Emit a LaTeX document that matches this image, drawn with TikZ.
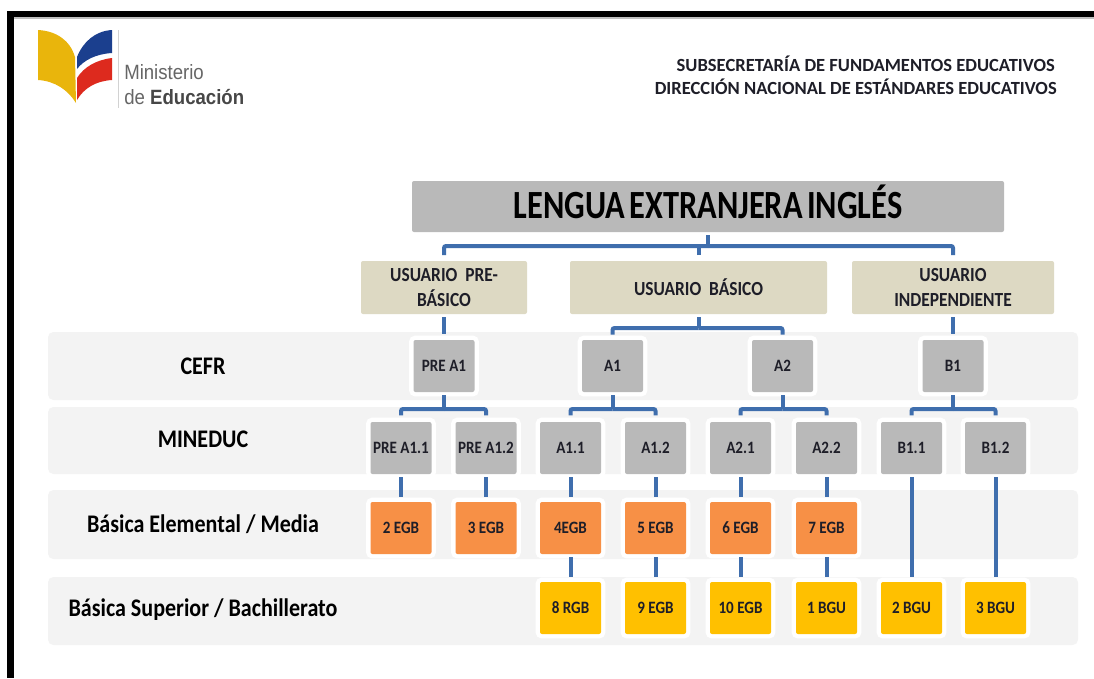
\documentclass[tikz,border=0pt]{standalone}
\usepackage{fontspec}
\setmainfont{Carlito}
\newfontfamily\logofont[FakeStretch=0.9]{Liberation Sans}
\newfontfamily\cndfont[FakeStretch=0.87]{Carlito}
\newfontfamily\titlefont[FakeStretch=0.81,WordSpace=0.6]{Carlito}
\definecolor{bandgray}{HTML}{F3F3F3}
\definecolor{boxgray}{HTML}{B9B9B9}
\definecolor{usertan}{HTML}{DDD9C3}
\definecolor{egborange}{HTML}{F79046}
\definecolor{bguyellow}{HTML}{FFC000}
\definecolor{connblue}{HTML}{3F6EAD}
\definecolor{inkdark}{HTML}{1E1E28}
\definecolor{logoyellow}{HTML}{E9B50C}
\definecolor{logoblue}{HTML}{1B3F8E}
\definecolor{logored}{HTML}{DD2A1E}
\tikzset{
  x=0.75pt,y=-0.75pt,
  pxbox/.style={anchor=north west,inner sep=0pt,outer sep=0pt,rounded corners=1.5pt,align=center,text=inkdark},
  band/.style={fill=bandgray,rounded corners=4pt},
  level/.style={pxbox,fill=boxgray,minimum width=45.75pt,minimum height=39pt,text height=8.2pt,text depth=0pt,
    preaction={draw=white,line width=6.5pt},font=\cndfont\bfseries\fontsize{13}{15}\selectfont},
  egb/.style={level,fill=egborange},
  bgu/.style={level,fill=bguyellow},
  user/.style={pxbox,fill=usertan,font=\cndfont\bfseries\fontsize{15}{19}\selectfont},
  rowlabel/.style={text=black,font=\cndfont\bfseries\fontsize{19}{22}\selectfont,inner sep=0pt},
  head/.style={anchor=east,text=inkdark,font=\bfseries\fontsize{13.9}{16}\selectfont,inner sep=0pt},
  conn/.style={draw=connblue,line width=3pt,rounded corners=1.5pt},
  drop/.style={conn,shorten <=2.25pt,shorten >=2.25pt}
}
\begin{document}
\begin{tikzpicture}
\useasboundingbox (0,0) rectangle (1094,678);
\fill[white] (0,0) rectangle (1094,678);
% frame
\fill[black] (7,11) rectangle (1094,17);
\fill[black] (7,11) rectangle (14,678);
\fill[gray!50] (14,17) rectangle (1094,19);
% logo
\fill[logoyellow] (38,30) .. controls (56,31) and (70,40) .. (75,57) -- (76,103) .. controls (68,90) and (55,81) .. (38,80) -- cycle;
\fill[logoblue] (77,57) .. controls (83,42) and (95,31) .. (112,30) -- (112,53) .. controls (96,54) and (84,60) .. (77,69) -- cycle;
\fill[logored] (77,78) .. controls (84,67) and (96,60) .. (112,58) -- (112,80) .. controls (96,81) and (84,88) .. (77,100) -- cycle;
\draw[gray!35,line width=0.6pt] (118,30) -- (118,108);
\node[anchor=west,inner sep=0pt,text=black!60,font=\logofont\fontsize{15.5}{18}\selectfont] (logoA) at (124,72) {Ministerio};
\node[anchor=west,inner sep=0pt,text=black!60,font=\logofont\fontsize{15.5}{18}\selectfont] (logoB) at (124,97) {de \textbf{\textcolor{black!72}{Educación}}};
% header
\node[head] (h1) at (1055,64) {SUBSECRETARÍA DE FUNDAMENTOS EDUCATIVOS};
\node[head] (h2) at (1057,87) {DIRECCIÓN NACIONAL DE ESTÁNDARES EDUCATIVOS};
% bands
\fill[band] (48,332) rectangle (1078,400);
\fill[band] (48,407) rectangle (1078,474);
\fill[band] (48,490) rectangle (1078,559);
\fill[band] (48,577) rectangle (1078,645);
% row labels
\node[rowlabel] (r1) at (203,366) {CEFR};
\node[rowlabel] (r2) at (203,439) {MINEDUC};
\node[rowlabel] (r3) at (203,524) {Básica Elemental / Media};
\node[rowlabel] (r4) at (203,610) {Básica Superior / Bachillerato};
% title and users
\node[pxbox,fill=boxgray,minimum width=444pt,minimum height=38.25pt,text=black,text height=20pt,text depth=2pt,font=\titlefont\bfseries\fontsize{30}{32}\selectfont] (top) at (412,181) {LENGUA EXTRANJERA INGLÉS};
\node[user,minimum width=124.5pt,minimum height=39.75pt] (u1) at (361,261) {USUARIO\ \ PRE-\\BÁSICO};
\node[user,minimum width=192.75pt,minimum height=39.75pt] (u2) at (570,261) {USUARIO\ \ BÁSICO};
\node[user,minimum width=151.5pt,minimum height=39.75pt] (u3) at (852,261) {USUARIO\\INDEPENDIENTE};
% CEFR
\node[level] (preA) at (413.5,340) {PRE A1};
\node[level] (aA) at (582,340) {A1};
\node[level] (aB) at (752,340) {A2};
\node[level] (bA) at (922.5,340) {B1};
% MINEDUC
\node[level] (m1) at (370.5,422) {PRE A1.1};
\node[level] (m2) at (455.5,422) {PRE A1.2};
\node[level] (m3) at (540,422) {A1.1};
\node[level] (m4) at (625,422) {A1.2};
\node[level] (m5) at (710,422) {A2.1};
\node[level] (m6) at (796,422) {A2.2};
\node[level] (m7) at (881,422) {B1.1};
\node[level] (m8) at (965,422) {B1.2};
% EGB
\node[egb] (e1) at (370.5,502) {2 EGB};
\node[egb] (e2) at (455.5,502) {3 EGB};
\node[egb] (e3) at (540,502) {4EGB};
\node[egb] (e4) at (625,502) {5 EGB};
\node[egb] (e5) at (710,502) {6 EGB};
\node[egb] (e6) at (796,502) {7 EGB};
% BGU
\node[bgu] (s3) at (540,582) {8 RGB};
\node[bgu] (s4) at (625,582) {9 EGB};
\node[bgu] (s5) at (710,582) {10 EGB};
\node[bgu] (s6) at (796,582) {1 BGU};
\node[bgu] (s7) at (881,582) {2 BGU};
\node[bgu] (s8) at (965,582) {3 BGU};
% junctions
\coordinate (jTop) at (708,246);
\coordinate (jU) at (698.5,328);
\coordinate (jP) at (444,409);
\coordinate (jA) at (612.5,409);
\coordinate (jB) at (782.5,409);
\coordinate (jC) at (953,409);
% connectors
\draw[conn,shorten <=2.25pt] (top.south) -- (jTop);
\draw[conn,shorten <=4.5pt] (u1.north) |- (jTop);
\draw[conn,shorten <=4.5pt] (u2.north) -- (u2.north|-jTop);
\draw[conn,shorten <=4.5pt] (u3.north) |- (jTop);
\draw[conn,shorten <=2.25pt,shorten >=4.5pt] (u1.south) -- (preA.north);
\draw[conn,shorten <=2.25pt] (u2.south) -- (jU);
\draw[conn,shorten <=4pt] (aA.north) |- (jU);
\draw[conn,shorten <=4pt] (aB.north) |- (jU);
\draw[conn,shorten <=2.25pt,shorten >=4.5pt] (u3.south) -- (bA.north);
\foreach \p/\j/\a/\b in {preA/jP/m1/m2,aA/jA/m3/m4,aB/jB/m5/m6,bA/jC/m7/m8}{
  \draw[conn,shorten <=2.25pt] (\p.south) -- (\j);
  \draw[conn,shorten <=5pt] (\a.north) |- (\j);
  \draw[conn,shorten <=5pt] (\b.north) |- (\j);
}
\foreach \a/\b in {m1/e1,m2/e2,m3/e3,m4/e4,m5/e5,m6/e6,e3/s3,e4/s4,e5/s5,e6/s6,m7/s7,m8/s8}{
  \draw[drop,shorten >=3.5pt] (\a.south) -- (\b.north);
}
\end{tikzpicture}
\end{document}
